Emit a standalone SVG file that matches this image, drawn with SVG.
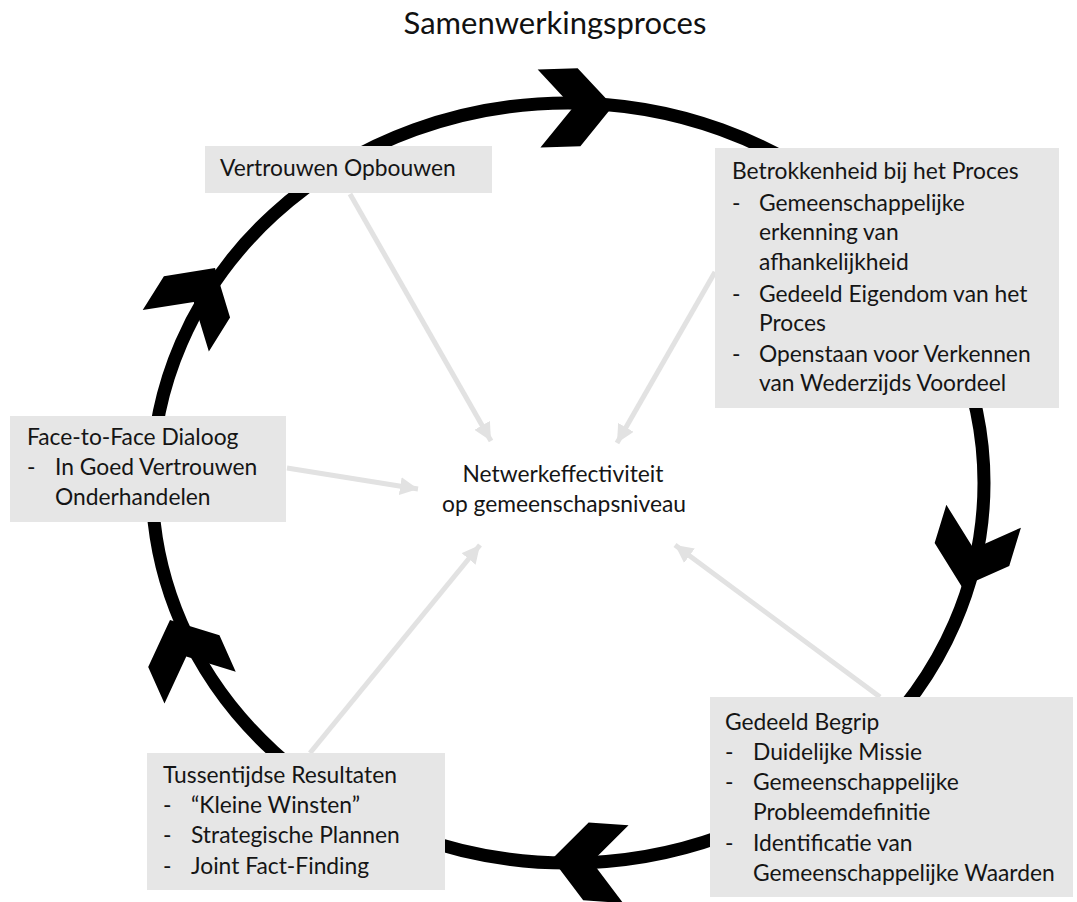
<svg xmlns="http://www.w3.org/2000/svg" width="1077" height="902" viewBox="0 0 1077 902">
<style>
.t{font-family:Lato,"Open Sans","Liberation Sans",sans-serif;font-size:22.8px;fill:#151515}
.title{font-family:Lato,"Open Sans","Liberation Sans",sans-serif;font-size:31px;fill:#111}
.box{fill:#e6e6e6}
.ring{fill:none;stroke:#000;stroke-width:13}
.chev{fill:#000}
.ga{stroke:#e2e2e2;stroke-width:5;fill:none;marker-end:url(#ah)}
</style>
<defs>
<path id="chev" d="M0,0 L-34,-39 L-74,-39 L-40,0 L-74,39 L-34,39 Z"/>
<marker id="ah" markerUnits="userSpaceOnUse" markerWidth="20" markerHeight="18" refX="18" refY="9" orient="auto">
<path d="M0,0 L18,9 L0,18 Z" fill="#e2e2e2"/>
</marker>
</defs>
<rect width="1077" height="902" fill="#fff"/>
<text class="title" x="555" y="34" text-anchor="middle">Samenwerkingsproces</text>
<g id="cycle">
<ellipse class="ring" cx="568" cy="483" rx="416" ry="380"/>
<use href="#chev" class="chev" transform="translate(613,106) rotate(-2)"/>
<use href="#chev" class="chev" transform="translate(962,587) rotate(107)"/>
<use href="#chev" class="chev" transform="translate(552,859) rotate(184)"/>
<use href="#chev" class="chev" transform="translate(170,620) rotate(-114)"/>
<use href="#chev" class="chev" transform="translate(215,268) rotate(-58)"/>
</g>
<g id="connectors">
<line class="ga" x1="350" y1="194" x2="491" y2="441"/>
<line class="ga" x1="715" y1="272" x2="617" y2="443"/>
<line class="ga" x1="287" y1="468" x2="418" y2="489"/>
<line class="ga" x1="310" y1="753" x2="480" y2="545"/>
<line class="ga" x1="880" y1="697" x2="675" y2="545"/>
</g>
<g id="center">
<text class="t" x="563" y="482" text-anchor="middle">Netwerkeffectiviteit</text>
<text class="t" x="564" y="512" text-anchor="middle">op gemeenschapsniveau</text>
</g>
<g id="vertrouwen">
<rect class="box" x="205" y="146" width="287" height="47"/>
<text class="t" x="220" y="176">Vertrouwen Opbouwen</text>
</g>
<g id="betrokkenheid">
<rect class="box" x="715" y="148" width="344" height="260"/>
<text class="t" x="732" y="179">Betrokkenheid bij het Proces</text>
<text class="t" x="732" y="211">-</text><text class="t" x="759" y="211">Gemeenschappelijke</text>
<text class="t" x="759" y="240">erkenning van</text>
<text class="t" x="759" y="270">afhankelijkheid</text>
<text class="t" x="732" y="302">-</text><text class="t" x="759" y="302">Gedeeld Eigendom van het</text>
<text class="t" x="759" y="331">Proces</text>
<text class="t" x="732" y="362">-</text><text class="t" x="759" y="362">Openstaan voor Verkennen</text>
<text class="t" x="759" y="391">van Wederzijds Voordeel</text>
</g>
<g id="facetoface">
<rect class="box" x="10" y="416" width="276" height="106"/>
<text class="t" x="27" y="445">Face-to-Face Dialoog</text>
<text class="t" x="27" y="475">-</text><text class="t" x="55" y="475">In Goed Vertrouwen</text>
<text class="t" x="55" y="505">Onderhandelen</text>
</g>
<g id="tussentijdse">
<rect class="box" x="147" y="753" width="298" height="137"/>
<text class="t" x="163" y="783">Tussentijdse Resultaten</text>
<text class="t" x="163" y="813">-</text><text class="t" x="191" y="813">“Kleine Winsten”</text>
<text class="t" x="163" y="843">-</text><text class="t" x="191" y="843">Strategische Plannen</text>
<text class="t" x="163" y="874">-</text><text class="t" x="191" y="874">Joint Fact-Finding</text>
</g>
<g id="gedeeld">
<rect class="box" x="710" y="697" width="363" height="200"/>
<text class="t" x="725" y="730">Gedeeld Begrip</text>
<text class="t" x="725" y="760">-</text><text class="t" x="753" y="760">Duidelijke Missie</text>
<text class="t" x="725" y="790">-</text><text class="t" x="753" y="790">Gemeenschappelijke</text>
<text class="t" x="753" y="820">Probleemdefinitie</text>
<text class="t" x="725" y="851">-</text><text class="t" x="753" y="851">Identificatie van</text>
<text class="t" x="753" y="881">Gemeenschappelijke Waarden</text>
</g>
</svg>
